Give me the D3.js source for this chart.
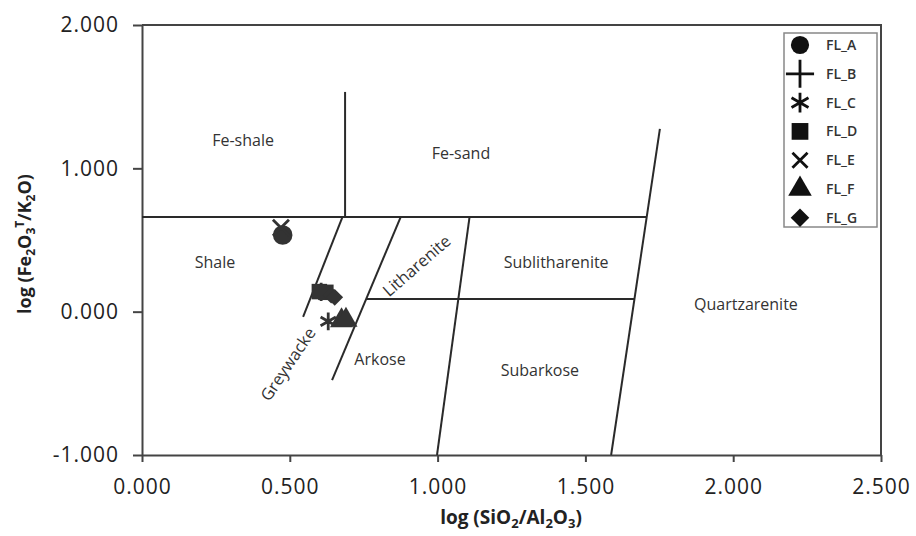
<!DOCTYPE html>
<html>
<head>
<meta charset="utf-8">
<script src="https://cdn.jsdelivr.net/npm/d3@7"></script>
<style>
  body { margin: 0; background: #fff; }
  svg { font-family: "Open Sans", sans-serif; }
</style>
</head>
<body>
<svg id="chart"></svg>
<script>
// sample series, [log(SiO2/Al2O3), log(Fe2O3T/K2O)]
const seriesNames = ["FL_A", "FL_B", "FL_C", "FL_D", "FL_E", "FL_F", "FL_G"];
const flA = [[0.476, 0.535]];
const flB = [[0.606, 0.138]];
const flC = [[0.630, -0.068]];
const flD = [[0.600, 0.140], [0.622, 0.135]];
const flE = [[0.470, 0.585]];
const flF = [[0.675, -0.062], [0.690, -0.058]];
const flG = [[0.640, 0.115], [0.652, 0.100]];

// field boundaries (Herron 1988)
const boundaries = [
  [[0.000, 0.660], [1.707, 0.660]],
  [[0.687, 0.660], [0.687, 1.533]],
  [[0.678, 0.660], [0.545, -0.037]],
  [[0.875, 0.660], [0.643, -0.477]],
  [[1.108, 0.660], [0.998, -1.000]],
  [[0.758, 0.088], [1.666, 0.088]],
  [[1.587, -1.000], [1.752, 1.275]]
];

const fieldNames = ["Fe-shale", "Fe-sand", "Shale", "Sublitharenite", "Quartzarenite", "Arkose", "Subarkose", "Litharenite", "Greywacke"];
const fieldPos = [[0.342, 1.198], [1.079, 1.107], [0.247, 0.347], [1.401, 0.347], [2.043, 0.054], [0.805, -0.332], [1.346, -0.408], [0.929, 0.320], [0.494, -0.367]];
const fieldAngle = [0, 0, 0, 0, 0, 0, 0, -41, -56];

const xTicks = [0, 0.5, 1, 1.5, 2, 2.5];
const yTicks = [-1, 0, 1, 2];

const width = 916;
const height = 536;

const svg = d3.select("#chart")
  .attr("width", width)
  .attr("height", height);

svg.append("rect").attr("width", width).attr("height", height).attr("fill", "#fff");

const xScale = d3.scaleLinear().domain([0, 2.5]).range([142, 881]);
const yScale = d3.scaleLinear().domain([-1, 2]).range([455, 25]);

const ink = "#2a2a2a";
const fmt = d => d3.format(".3f")(d).replace("\u2212", "-");

// frame top / right
svg.append("path")
  .attr("d", `M${xScale(0)},${yScale(2)}H${xScale(2.5)}V${yScale(-1)}`)
  .attr("fill", "none")
  .attr("stroke", "#444")
  .attr("stroke-width", 2);

const xAxis = d3.axisBottom(xScale).tickValues(xTicks).tickFormat(fmt)
  .tickSize(7).tickSizeOuter(0).tickPadding(17);
const yAxis = d3.axisLeft(yScale).tickValues(yTicks).tickFormat(fmt)
  .tickSize(9).tickSizeOuter(0).tickPadding(14);

const gx = svg.append("g")
  .attr("transform", `translate(0,${yScale(-1)})`)
  .call(xAxis);
const gy = svg.append("g")
  .attr("transform", `translate(${xScale(0)},0)`)
  .call(yAxis);

[gx, gy].forEach(g => {
  g.select(".domain").attr("stroke", "#444").attr("stroke-width", 2);
  g.selectAll(".tick line").attr("stroke", "#444").attr("stroke-width", 2);
  g.selectAll(".tick text")
    .attr("fill", "#222")
    .style("font-size", "21px")
    .style("letter-spacing", "1px")
    .style("font-family", "'Open Sans', sans-serif");
});

// boundaries
const line = d3.line().x(d => xScale(d[0])).y(d => yScale(d[1]));
svg.append("g").selectAll("path")
  .data(boundaries)
  .join("path")
  .attr("d", line)
  .attr("fill", "none")
  .attr("stroke", ink)
  .attr("stroke-width", 2);

// field names
svg.append("g").selectAll("text")
  .data(fieldNames)
  .join("text")
  .attr("transform", (d, i) => `translate(${xScale(fieldPos[i][0])},${yScale(fieldPos[i][1])}) rotate(${fieldAngle[i]})`)
  .attr("text-anchor", "middle")
  .attr("dy", "0.35em")
  .attr("fill", "#333")
  .style("font-size", (d, i) => fieldAngle[i] ? "16.5px" : "16px")
  .text(d => d);

// symbols
const symbolTypes = {
  FL_A: {type: d3.symbolCircle, fill: true},
  FL_B: {type: d3.symbolPlus, fill: false},
  FL_C: {type: d3.symbolAsterisk, fill: false},
  FL_D: {type: d3.symbolSquare, fill: true},
  FL_E: {type: d3.symbolX, fill: false},
  FL_F: {type: d3.symbolTriangle, fill: true},
  FL_G: {type: d3.symbolDiamond2, fill: true}
};
const plotSizes = {FL_A: 300, FL_B: 110, FL_C: 220, FL_D: 240, FL_E: 170, FL_F: 230, FL_G: 180};
const legendSizes = {FL_A: 260, FL_B: 260, FL_C: 270, FL_D: 280, FL_E: 150, FL_F: 240, FL_G: 220};
const seriesData = [flA, flB, flC, flD, flE, flF, flG];

function drawSymbol(g, name, size, color) {
  const s = symbolTypes[name];
  const p = g.append("path").attr("d", d3.symbol(s.type, size)());
  if (s.fill) p.attr("fill", color).attr("stroke", "none");
  else p.attr("fill", "none").attr("stroke", color).attr("stroke-width", 2.8);
  return p;
}

const pts = svg.append("g");
seriesNames.forEach((name, i) => {
  seriesData[i].forEach(d => {
    const g = pts.append("g").attr("transform", `translate(${xScale(d[0])},${yScale(d[1])})`);
    drawSymbol(g, name, plotSizes[name], "#333");
  });
});

// legend
const legend = svg.append("g");
legend.append("rect")
  .attr("x", 784).attr("y", 33)
  .attr("width", 93).attr("height", 194)
  .attr("fill", "#fff")
  .attr("stroke", "#888")
  .attr("stroke-width", 1.5);
seriesNames.forEach((name, i) => {
  const y = 45 + i * 28.8;
  const g = legend.append("g").attr("transform", `translate(800,${y})`);
  drawSymbol(g, name, legendSizes[name], "#111");
  legend.append("text")
    .attr("x", 826).attr("y", y)
    .attr("dy", "0.35em")
    .attr("fill", "#333")
    .style("font-size", "14px")
    .style("font-weight", "600")
    .text(name);
});

// axis titles
function sub(t, s, size) {
  t.append("tspan").text(s).attr("dy", 4).style("font-size", size);
}
function back(t, s) {
  t.append("tspan").text(s).attr("dy", -4);
}
const xt = svg.append("text")
  .attr("x", 511).attr("y", 524)
  .attr("text-anchor", "middle")
  .attr("fill", "#222")
  .style("font-size", "19px")
  .style("font-weight", "bold");
xt.append("tspan").text("log (SiO");
sub(xt, "2", "13px");
back(xt, "/Al");
sub(xt, "2", "13px");
back(xt, "O");
sub(xt, "3", "13px");
back(xt, ")");

const yt = svg.append("text")
  .attr("transform", "translate(31,244) rotate(-90)")
  .attr("text-anchor", "middle")
  .attr("fill", "#222")
  .style("font-size", "18px")
  .style("font-weight", "bold");
yt.append("tspan").text("log (Fe");
sub(yt, "2", "12px");
back(yt, "O");
sub(yt, "3", "12px");
yt.append("tspan").text("T").attr("dy", -11).style("font-size", "12px");
yt.append("tspan").text("/K").attr("dy", 7);
sub(yt, "2", "12px");
back(yt, "O)");
</script>
</body>
</html>
